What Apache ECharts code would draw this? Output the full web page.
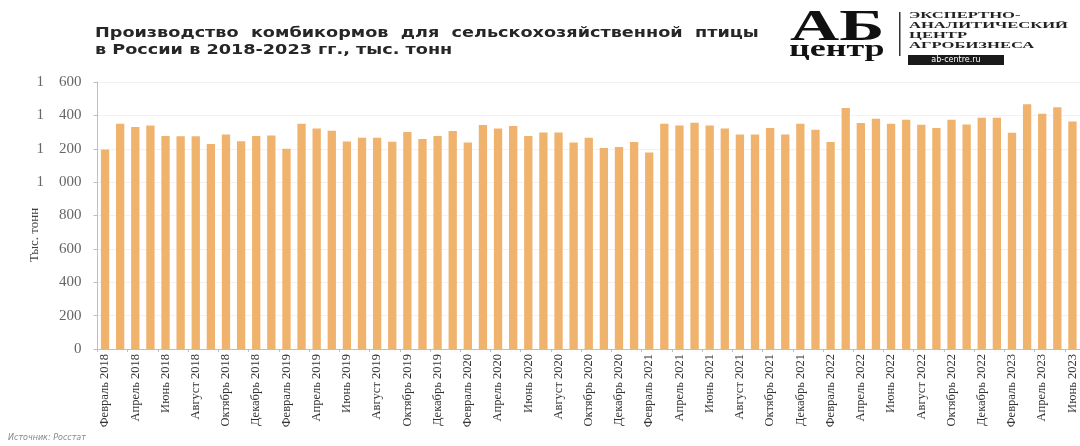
<!DOCTYPE html>
<html><head><meta charset="utf-8">
<script src="https://cdn.jsdelivr.net/npm/echarts@6/dist/echarts.min.js"></script>
<style>html,body{margin:0;padding:0;background:#fff}#c{width:1080px;height:446px}</style>
</head><body><div id="c"></div>
<script>
const monthNames = ['Январь','Февраль','Март','Апрель','Май','Июнь','Июль','Август','Сентябрь','Октябрь','Ноябрь','Декабрь'];
// Февраль 2018 – Июнь 2023
const categories = [];
for (let y = 2018; y <= 2023; y++) {
  for (let m = 0; m < 12; m++) {
    if (y === 2018 && m < 1) continue;
    if (y === 2023 && m > 5) continue;
    categories.push(monthNames[m] + ' ' + y);
  }
}
const values = [
  1195,1350,1330,1340,1276,1275,1275,1228,1285,1245,1276,1280,1200,1350,1322,1308,
  1244,1266,1266,1242,1300,1258,1276,1306,1238,1342,1322,1336,1276,1298,1298,1238,
  1266,1204,1210,1240,1178,1350,1340,1356,1340,1322,1286,1286,1324,1286,1350,1314,
  1240,1444,1354,1380,1350,1374,1344,1324,1374,1346,1386,1386,1296,1466,1410,1448,1364
];
const titleLines = ['Производство  комбикормов  для  сельскохозяйственной  птицы', 'в России в 2018-2023 гг., тыс. тонн'];
const logoLines = ['ЭКСПЕРТНО-','АНАЛИТИЧЕСКИЙ','ЦЕНТР','АГРОБИЗНЕСА'];
const yName = 'Тыс. тонн';
const sourceText = 'Источник: Росстат';

const chart = echarts.init(document.getElementById('c'));
const fmt = v => String(v).replace(/\B(?=(\d{3})+(?!\d))/g, '\u2003');
chart.setOption({
  animation: false,
  backgroundColor: '#fff',
  grid: {left: 97.5, right: 0, top: 82, bottom: 97, containLabel: false},
  xAxis: {
    type: 'category', data: categories,
    axisLine: {lineStyle: {color: '#bfbfbf'}},
    axisTick: {show: true, interval: 1, length: 3, lineStyle: {color: '#bfbfbf'}},
    axisLabel: {interval: 1, rotate: 90, fontFamily: 'Liberation Serif', fontSize: 12.5, color: '#333', margin: 5}
  },
  yAxis: {
    type: 'value', min: 0, max: 1600, interval: 200,
    axisLine: {show: true, lineStyle: {color: '#bfbfbf'}},
    axisTick: {show: true, length: 4, lineStyle: {color: '#bfbfbf'}},
    splitLine: {show: true, lineStyle: {color: '#f2f2f2'}},
    axisLabel: {formatter: v => fmt(v), fontFamily: 'Liberation Serif', fontSize: 15, color: '#666', margin: 16}
  },
  series: [{
    type: 'bar', data: values, barCategoryGap: '45%',
    itemStyle: {color: '#F0B36E'}
  }],
  graphic: [
    {type: 'text', x: 95, y: 25, scaleX: 1.26, style: {x: 0, y: 0, text: titleLines.join('\n'), font: 'bold 14px "DejaVu Sans"', fill: '#262626', lineHeight: 17, verticalAlign: 'top'}},
    {type: 'text', x: 790, y: 7, scaleX: 1.55, style: {x: 0, y: 0, text: 'АБ', font: 'bold 44px "Liberation Serif"', fill: '#111', verticalAlign: 'top'}},
    {type: 'text', x: 789, y: 38, scaleX: 1.5, style: {x: 0, y: 0, text: 'центр', font: 'bold 24px "Liberation Serif"', fill: '#111', verticalAlign: 'top'}},
    {type: 'rect', shape: {x: 899, y: 12, width: 1.5, height: 44}, style: {fill: '#333'}},
    {type: 'text', x: 909, y: 11, scaleX: 1.95, style: {x: 0, y: 0, text: logoLines.join('\n'), font: 'bold 8.5px "Liberation Serif"', fill: '#222', lineHeight: 10, verticalAlign: 'top'}},
    {type: 'rect', shape: {x: 908, y: 55, width: 96, height: 10}, style: {fill: '#1a1a1a'}},
    {type: 'text', x: 956, y: 60, style: {text: 'ab-centre.ru', font: '8px "DejaVu Sans"', fill: '#fff', align: 'center', verticalAlign: 'middle'}},
    {type: 'text', x: 35, y: 235, rotation: Math.PI / 2, style: {text: yName, font: '13px "Liberation Serif"', fill: '#404040', align: 'center', verticalAlign: 'middle'}},
    {type: 'text', x: 8, y: 434, style: {text: sourceText, font: 'italic 8px "DejaVu Sans"', fill: '#888', verticalAlign: 'top'}}
  ]
});
</script></body></html>
